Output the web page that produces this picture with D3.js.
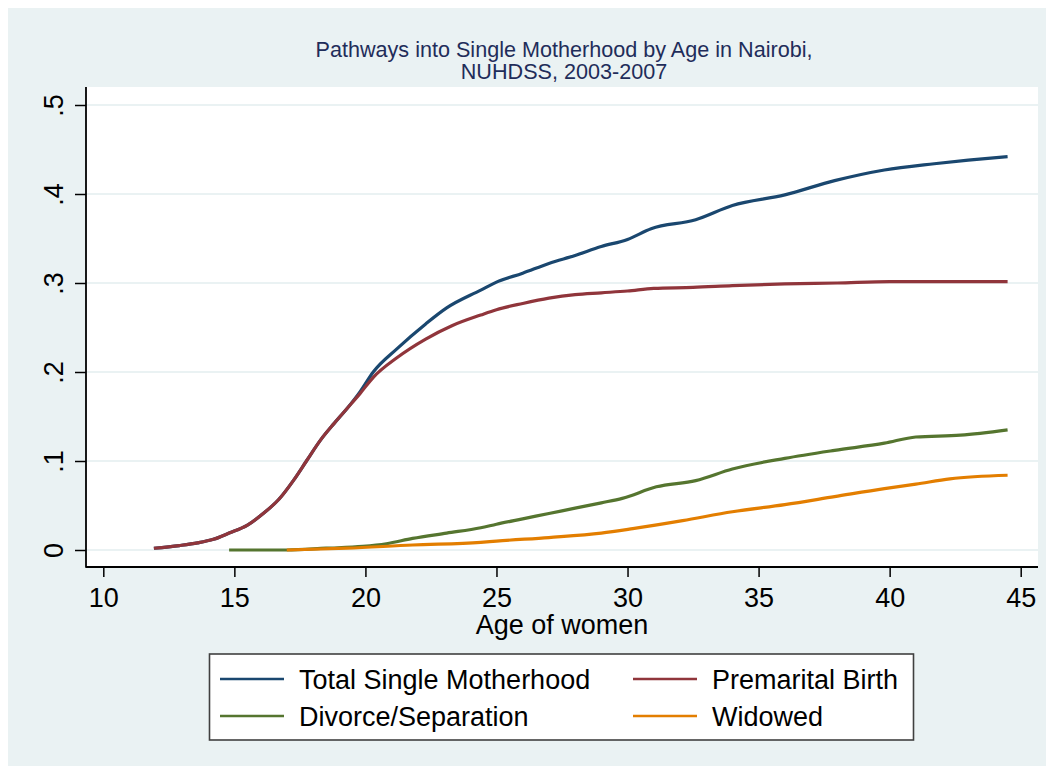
<!DOCTYPE html>
<head>
    <meta charset="utf-8" />
    <title>Pathways into Single Motherhood</title>
    <script src="https://d3js.org/d3.v7.min.js"></script>
    <style>
        body { margin: 0; background: #fff; }
        svg { display: block; font-family: "Liberation Sans", Arial, Helvetica, sans-serif; }
    </style>
</head>
<body>
<svg width="1054" height="774"></svg>

<script>
    // age of women, cumulative proportion
    let premarital = [[11.93, 0.002], [12.9, 0.005], [13.6, 0.008], [14.2, 0.012], [14.8, 0.019], [15.5, 0.028],
        [16.1, 0.041], [16.7, 0.057], [17.25, 0.078], [17.75, 0.1], [18.3, 0.124], [18.8, 0.142], [19.3, 0.159],
        [19.8, 0.176], [20.3, 0.194], [21.2, 0.216], [22.3, 0.237], [23.3, 0.252], [24.4, 0.264], [25, 0.27],
        [26, 0.277], [27, 0.283], [28, 0.287], [29, 0.289], [30, 0.291], [31, 0.294], [32.5, 0.295], [34, 0.297],
        [36, 0.299], [38, 0.3], [40, 0.3015], [42, 0.3015], [44.5, 0.3015]];

    let totalSingle = [[11.93, 0.002], [12.9, 0.005], [13.6, 0.008], [14.2, 0.012], [14.8, 0.019], [15.5, 0.028],
        [16.1, 0.041], [16.7, 0.057], [17.25, 0.078], [17.75, 0.1], [18.3, 0.124], [18.8, 0.142], [19.3, 0.159],
        [19.8, 0.178], [20.3, 0.2], [21.2, 0.226], [22.3, 0.254], [23.1, 0.272], [24.4, 0.292], [25, 0.301],
        [26, 0.311], [27, 0.322], [28, 0.331], [29, 0.341], [30, 0.349], [30.9, 0.361], [32.6, 0.371], [34, 0.387],
        [36, 0.399], [37.9, 0.415], [39.8, 0.427], [41.7, 0.434], [43, 0.438], [44.5, 0.442]];

    let divorce = [[14.8, 0], [17, 0], [18.5, 0.002], [19.9, 0.004], [20.8, 0.007], [21.8, 0.013], [23.1, 0.019],
        [24.4, 0.025], [25, 0.029], [26, 0.035], [27, 0.041], [28, 0.047], [29, 0.053], [29.8, 0.058], [31.1, 0.071],
        [32.6, 0.078], [34, 0.091], [36, 0.103], [37.9, 0.112], [39.8, 0.12], [41, 0.127], [42.7, 0.129], [44.5, 0.135]];

    let widowed = [[17, 0], [19.3, 0.002], [21.8, 0.0056], [24.4, 0.0085], [25, 0.01], [27, 0.014], [29, 0.019],
        [30.2, 0.024], [32.1, 0.033], [34, 0.043], [36, 0.051], [37.9, 0.06], [39.8, 0.069], [41, 0.074],
        [42.3, 0.08], [44.5, 0.084]];

    let xTicks = [10, 15, 20, 25, 30, 35, 40, 45];
    let yTicks = [0, 0.1, 0.2, 0.3, 0.4, 0.5];
    let yTickLabels = ["0", ".1", ".2", ".3", ".4", ".5"];
    let seriesNames = ["Total Single Motherhood", "Premarital Birth", "Divorce/Separation", "Widowed"];
    let seriesColors = ["#1a476f", "#90353b", "#55752f", "#e37e00"];
    let seriesData = [totalSingle, premarital, divorce, widowed];

    let svg = d3.select("svg");
    let bg = "#eaf2f3";
    let plot = {left: 86, right: 1038, top: 87, bottom: 567};

    svg.append("rect").attr("x", 8).attr("y", 8).attr("width", 1038).attr("height", 758).attr("fill", bg);
    svg.append("rect").attr("x", plot.left).attr("y", plot.top)
        .attr("width", plot.right - plot.left).attr("height", plot.bottom - plot.top).attr("fill", "#fff");

    let x = d3.scaleLinear().domain([10, 45]).range([103.3, 1020.7]);
    let y = d3.scaleLinear().domain([0, 0.5]).range([550, 105]);

    // grid
    svg.append("g").selectAll("line").data(yTicks).join("line")
        .attr("x1", plot.left).attr("x2", plot.right)
        .attr("y1", d => y(d)).attr("y2", d => y(d))
        .attr("stroke", bg).attr("stroke-width", 2);

    // lines
    let line = d3.line().x(d => x(d[0])).y(d => y(d[1])).curve(d3.curveMonotoneX);
    seriesData.forEach(function (s, i) {
        svg.append("path").datum(s)
            .attr("d", line)
            .attr("fill", "none")
            .attr("stroke", seriesColors[i])
            .attr("stroke-width", 3.2)
            .attr("stroke-linejoin", "round");
    });

    // y axis
    let yAxis = svg.append("g").attr("transform", "translate(" + plot.left + ",0)")
        .call(d3.axisLeft(y).tickValues(yTicks).tickSize(11).tickSizeOuter(0)
            .tickFormat((d, i) => yTickLabels[i]));
    yAxis.select(".domain").remove();
    yAxis.selectAll(".tick line").attr("stroke", "#000").attr("stroke-width", 1.5);
    yAxis.selectAll(".tick text")
        .attr("x", null).attr("dy", null)
        .attr("transform", "translate(-23,0) rotate(-90)")
        .attr("text-anchor", "middle")
        .attr("font-size", 27).attr("fill", "#000");

    // x axis
    let xAxis = svg.append("g").attr("transform", "translate(0," + plot.bottom + ")")
        .call(d3.axisBottom(x).tickValues(xTicks).tickSize(10).tickSizeOuter(0));
    xAxis.select(".domain").remove();
    xAxis.selectAll(".tick line").attr("stroke", "#000").attr("stroke-width", 1.5);
    xAxis.selectAll(".tick text")
        .attr("y", 40).attr("dy", null)
        .attr("font-size", 27).attr("fill", "#000");

    svg.append("line").attr("x1", plot.left).attr("x2", plot.left).attr("y1", plot.top).attr("y2", plot.bottom + 0.75)
        .attr("stroke", "#000").attr("stroke-width", 1.8);
    svg.append("line").attr("x1", plot.left).attr("x2", plot.right).attr("y1", plot.bottom).attr("y2", plot.bottom)
        .attr("stroke", "#000").attr("stroke-width", 1.8);

    // axis title
    svg.append("text").attr("x", 562).attr("y", 634).attr("text-anchor", "middle")
        .attr("font-size", 27).attr("fill", "#000").text("Age of women");

    // title
    let title = svg.append("text").attr("text-anchor", "middle").attr("font-size", 21.6).attr("fill", "#1f2d5a");
    title.append("tspan").attr("x", 564).attr("y", 57).text("Pathways into Single Motherhood by Age in Nairobi,");
    title.append("tspan").attr("x", 564).attr("y", 79).text("NUHDSS, 2003-2007");

    // legend
    svg.append("rect").attr("x", 209.5).attr("y", 654).attr("width", 704).attr("height", 86)
        .attr("fill", "#fff").attr("stroke", "#404040").attr("stroke-width", 1.6);
    let legendPos = [[220, 679], [633, 679], [220, 716], [633, 716]];
    seriesNames.forEach(function (name, i) {
        let p = legendPos[i];
        svg.append("line").attr("x1", p[0]).attr("x2", p[0] + 64).attr("y1", p[1]).attr("y2", p[1])
            .attr("stroke", seriesColors[i]).attr("stroke-width", 2.6);
        svg.append("text").attr("x", p[0] + 79).attr("y", p[1] + 9.5)
            .attr("font-size", 27).attr("fill", "#000").text(name);
    });
</script>
</body>
